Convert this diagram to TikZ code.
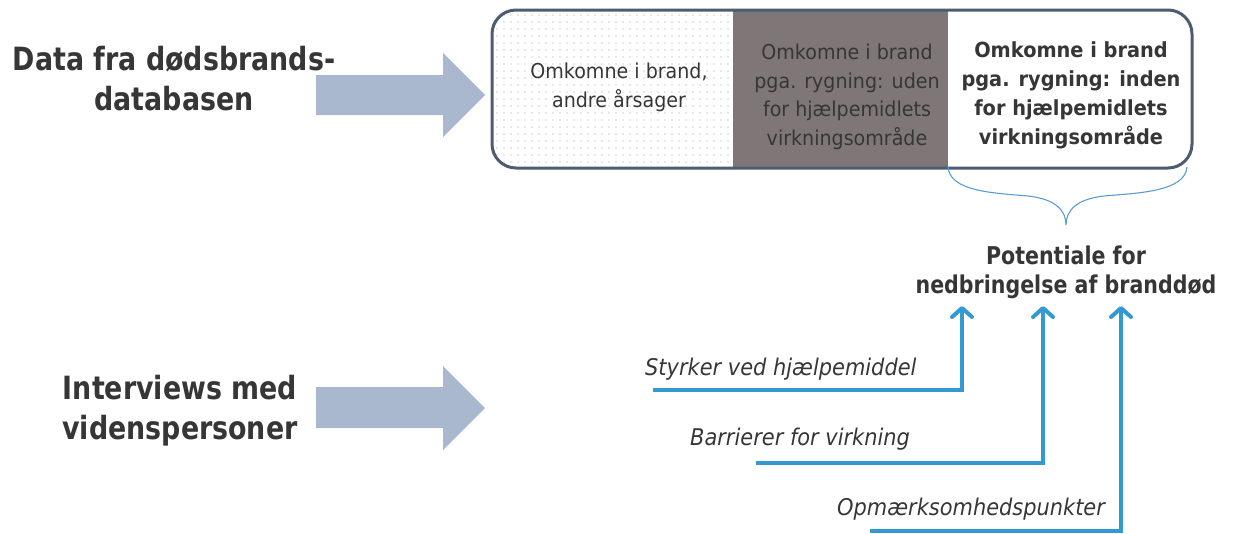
\documentclass[tikz,border=0pt]{standalone}
\usepackage{fontspec}
\setmainfont{DejaVu Sans}
\newfontfamily\headfont[FakeStretch=0.84]{DejaVu Sans}
\newfontfamily\boxfont[FakeStretch=0.93]{DejaVu Sans}
\newfontfamily\labfont[FakeStretch=0.91]{DejaVu Sans}
\usetikzlibrary{arrows.meta,patterns.meta}
\definecolor{txt}{HTML}{363636}
\definecolor{blockarrow}{HTML}{A9B8CE}
\definecolor{darkfill}{HTML}{7F7777}
\definecolor{boxline}{HTML}{4D5C70}
\definecolor{bluearrow}{HTML}{3399D2}
\definecolor{bracecol}{HTML}{5B9BD5}
\tikzset{
  heading/.style={font=\headfont\fontsize{32}{40}\selectfont\bfseries, text=txt, align=center, anchor=base, inner sep=0},
  boxtext/.style={font=\boxfont\fontsize{20.5}{28.5}\selectfont, text=txt, align=center, anchor=base, inner sep=0},
  boxbold/.style={font=\boxfont\fontsize{20.8}{29}\selectfont\bfseries, text=txt, align=center, anchor=base, inner sep=0},
  potential/.style={font=\headfont\fontsize{24.5}{29}\selectfont\bfseries, text=txt, align=center, anchor=base, inner sep=0},
  label/.style={font=\labfont\fontsize{23}{25}\selectfont\itshape, text=txt, anchor=base west, inner sep=0},
  fatarrow/.style={fill=blockarrow},
  bluecon/.style={draw=bluearrow, line width=4, -{Straight Barb[length=9pt,width=20pt,round]}},
  bracestyle/.style={draw=bracecol, line width=1.1},
  frame/.style={draw=boxline, line width=3, rounded corners=24}
}
\begin{document}
\begin{tikzpicture}[x=1pt,y=-1pt]
\useasboundingbox (0,0) rectangle (1234,533);

% headings (base anchor = last line's baseline)
\node[heading] (h1) at (174,110) {Data fra dødsbrands-\\databasen};
\node[heading] (h2) at (180,439) {Interviews med\\videnspersoner};

% block arrows
\fill[fatarrow] (316,75) -- (443,75) -- (443,53) -- (485,95) -- (443,137) -- (443,115) -- (316,115) -- cycle;
\fill[fatarrow] (316,387) -- (443,387) -- (443,366) -- (485,408) -- (443,450) -- (443,428) -- (316,428) -- cycle;

% segmented box
\begin{scope}
\clip[rounded corners=24] (492,10) rectangle (1192,168);
\fill[white] (492,10) rectangle (1192,168);
\fill[pattern={Dots[radius=0.65pt,distance=7pt]}, pattern color=black!38] (492,10) rectangle (733,168);
\fill[darkfill] (733,10) rectangle (948,168);
\end{scope}
\draw[frame] (492,10) rectangle (1192,168);

\node[boxtext] (s1) at (619,107) {Omkomne i brand,\\andre årsager};
\node[boxtext] (s2) at (847,145) {Omkomne i brand\\pga. rygning: uden\\for hjælpemidlets\\virkningsområde};
\node[boxbold] (s3) at (1071,144) {Omkomne i brand\\pga. rygning: inden\\for hjælpemidlets\\virkningsområde};

% brace
\coordinate (bl) at (948,167);
\coordinate (bm) at (1066,225);
\coordinate (br) at (1187,167);
\draw[bracestyle] (bl) .. controls (950,192) and (995,193) .. (1028,196)
  .. controls (1055,199) and (1066,210) .. (bm)
  .. controls (1066,210) and (1077,199) .. (1104,196)
  .. controls (1137,193) and (1185,192) .. (br);

\node[potential] (pot) at (1066,293) {Potentiale for\\nedbringelse af branddød};

% labels and connectors
\node[label] (l1) at (645,375) {Styrker ved hjælpemiddel};
\node[label] (l2) at (690,445) {Barrierer for virkning};
\node[label] (l3) at (837,515) {Opmærksomhedspunkter};

\coordinate (a1) at (653,390);
\coordinate (a2) at (756,463);
\coordinate (a3) at (870,531);
\coordinate (t1) at (962,306);
\coordinate (t2) at (1043,306);
\coordinate (t3) at (1121,306);
\draw[bluecon] (a1) -| (t1);
\draw[bluecon] (a2) -| (t2);
\draw[bluecon] (a3) -| (t3);
\end{tikzpicture}
\end{document}
